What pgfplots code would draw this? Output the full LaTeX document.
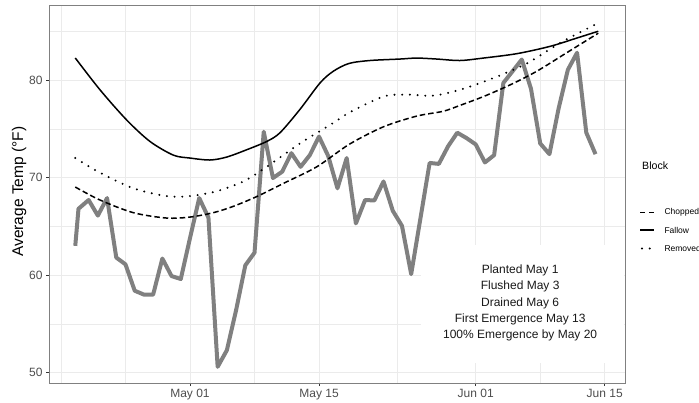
\documentclass[border=0pt]{standalone}
\usepackage{fontspec}
\setmainfont{Liberation Sans}
\usepackage{pgfplots}
\pgfplotsset{compat=1.18}
\definecolor{tempgray}{RGB}{128,128,128}
\definecolor{gridgray}{RGB}{235,235,235}
\definecolor{labgray}{RGB}{77,77,77}
\begin{document}
\begin{tikzpicture}
\path[use as bounding box] (0,0) rectangle (699pt,402pt);
\begin{axis}[
    at={(49pt,19pt)}, anchor=south west,
    scale only axis, width=576pt, height=378pt,
    xmin=-15.3, xmax=47.2, ymin=48.94, ymax=87.69,
    xtick={0,14,31,45},
    xticklabels={May 01,May 15,Jun 01,Jun 15},
    ytick={50,60,70,80},
    minor xtick={-14,-7,7,22.5,38},
    minor ytick={55,65,75,85},
    grid=both,
    major grid style={color=gridgray, line width=0.9pt},
    minor grid style={color=gridgray, line width=0.5pt},
    axis line style={black!50, line width=0.8pt},
    tick align=outside, major tick length=3pt, minor tick length=0pt,
    tick style={black!80, line width=0.6pt},
    xtick pos=left, ytick pos=left,
    ticklabel style={font=\fontsize{12}{12}\selectfont, text=labgray},
    /pgf/number format/assume math mode=true,
    ylabel={Average Temp (°F)},
    ylabel style={font=\fontsize{15.5}{16}\selectfont, at={(axis description cs:-0.052,0.506)}, anchor=center},
]
% daily average temperature
\addplot[tempgray, line width=4pt, line join=round] coordinates {
(-12.45,63.0) (-12.1,66.8) (-11,67.7) (-10,66.1) (-9,67.9) (-8,61.8) (-7,61.1)
(-6,58.4) (-5,58.0) (-4,58.0) (-3,61.7) (-2,59.9) (-1,59.6) (0,63.8)
(1,67.9) (2,65.9) (3,50.6) (4,52.3) (5,56.4) (6,61.0) (7,62.3) (8,74.7)
(9,69.95) (10,70.6) (11,72.5) (12,71.1) (13,72.3) (14,74.2) (15,72.2)
(16,68.9) (17,72.0) (18,65.3) (19,67.7) (20,67.65) (21,69.6) (22,66.6)
(23,65.05) (24,60.1) (25,65.8) (26,71.5) (27,71.4) (28,73.2) (29,74.6)
(30,74.05) (31,73.4) (32,71.55) (33,72.3) (34,79.7) (35,80.9) (36,82.1)
(37,79.1) (38,73.5) (39,72.4) (40,77.1) (41,81.05) (42,82.8) (43,74.6)
(44,72.4)
};
% Chopped
\addplot[black, line width=1.5pt, smooth, dash pattern=on 5.5pt off 3pt] coordinates {
(-12.45,69.03) (-9.77,67.7) (-6.15,66.4) (-2.53,65.85) (0,65.95) (2.53,66.4)
(4.7,67.05) (7.24,68.05) (10.13,69.4) (13.75,71.1) (17.26,73.4) (20.98,75.2)
(24.6,76.3) (27.49,76.8) (29.3,77.4) (31.83,78.3) (34.73,79.5) (37.63,80.9)
(40.88,82.8) (44.3,84.8)
};
% Fallow
\addplot[black, line width=1.5pt, smooth] coordinates {
(-12.45,82.26) (-9.77,79.0) (-6.87,75.9) (-4.34,73.7) (-1.81,72.3) (0,72.0)
(2.17,71.8) (3.98,72.1) (6.15,72.85) (8.32,73.7) (9.77,74.6) (11.94,77.0)
(14.11,79.7) (15.55,80.9) (17.26,81.7) (19.54,82.0) (22.79,82.15) (24.6,82.25)
(26.77,82.15) (29.3,82.0) (31.83,82.25) (35.46,82.7) (39.07,83.45) (41.97,84.3)
(44.3,85.0)
};
% Removed
\addplot[black, line width=2.2pt, smooth, line cap=round, dash pattern=on 0pt off 7.7pt] coordinates {
(-12.45,72.0) (-9.77,70.5) (-6.15,68.9) (-2.53,68.1) (0,68.1) (2.9,68.6)
(5.78,69.6) (8.32,71.1) (11.94,73.5) (15.55,75.6) (17.36,76.7) (20.98,78.3)
(23.52,78.5) (26.4,78.4) (29.3,79.0) (32.92,80.2) (36.54,81.7) (40.16,83.8)
(44.0,85.7)
};
\fill[white] (axis cs:25.04,50.97) rectangle (axis cs:47.1,63.11);
\node[align=center, font=\fontsize{12}{16.3}\selectfont, text=black!90]
  at (axis cs:35.82,57.13)
  {Planted May 1\\Flushed May 3\\Drained May 6\\First Emergence May 13\\100\% Emergence by May 20};
\end{axis}
% legend
\node[anchor=west, inner sep=0pt, font=\fontsize{10.6}{12}\selectfont] at (642pt,236pt) {Block};
\draw[line width=1.5pt, dash pattern=on 5pt off 4pt] (640pt,189.5pt) -- (654pt,189.5pt);
\node[anchor=west, inner sep=0pt, font=\fontsize{8.5}{10}\selectfont] at (664.3pt,189.5pt) {Chopped};
\draw[line width=1.5pt] (640pt,172pt) -- (654pt,172pt);
\node[anchor=west, inner sep=0pt, font=\fontsize{8.5}{10}\selectfont] at (664.3pt,172pt) {Fallow};
\draw[line width=2.2pt, line cap=round, dash pattern=on 0pt off 7.7pt] (642pt,153.5pt) -- (654pt,153.5pt);
\node[anchor=west, inner sep=0pt, font=\fontsize{8.5}{10}\selectfont] at (664.3pt,153.5pt) {Removed};
\end{tikzpicture}
\end{document}
